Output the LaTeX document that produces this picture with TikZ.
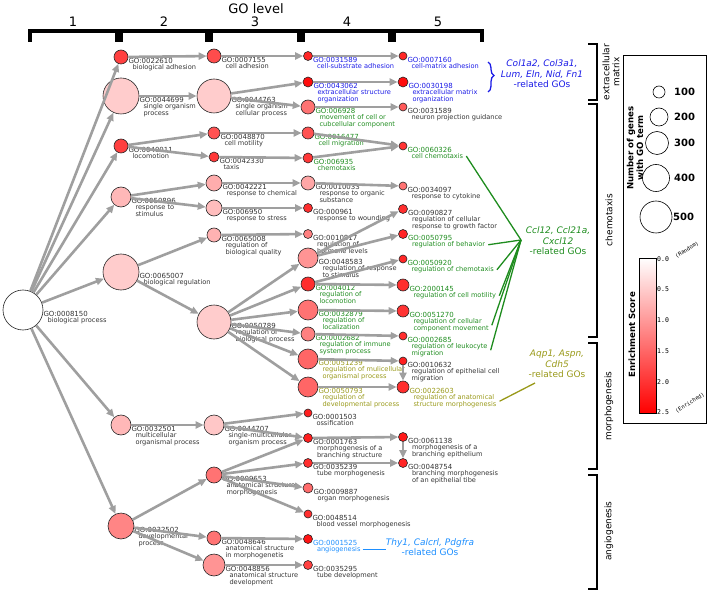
\documentclass[tikz,border=0pt]{standalone}
\usepackage{fontspec}
\setmainfont{DejaVu Sans}
\newfontfamily\monofont{DejaVu Sans Mono}
\usetikzlibrary{arrows.meta, decorations.pathreplacing}

\definecolor{labgray}{HTML}{333333}
\definecolor{ecmblue}{HTML}{1A1AE6}
\definecolor{chemgreen}{HTML}{1E8C1E}
\definecolor{morpholive}{HTML}{999919}
\definecolor{angioblue}{HTML}{1E8FFF}

% one GO term: name, x, y, radius, fill, text colour, id, description
\newcommand{\goterm}[8]{%
  \node[term, minimum size=#4*2pt, fill=#5] (#1) at (#2,#3) {};
  \node[goid, text=#6, anchor=west] (#1id) at ([yshift=-3.5pt]#1.east) {#7};
  \node[godesc, text=#6, anchor=north west] (#1ds) at ([xshift=4pt, yshift=-1pt]#1id.south west) {#8};
}

\begin{document}
\begin{tikzpicture}[x=1pt, y=-1pt,
    term/.style={circle, draw=black!85, line width=0.6pt, inner sep=0pt},
    goid/.style={inner sep=0pt, font=\fontsize{7}{7}\selectfont},
    godesc/.style={inner sep=0pt, align=left, font=\fontsize{6.6}{7}\selectfont},
    edge/.style={draw=gray!75, line width=2.6pt, -{Triangle[length=8pt, width=7pt]}},
    hbrack/.style={draw=black, line width=3.2pt},
    rbrack/.style={draw=black, line width=2.6pt},
    lvlnum/.style={font=\fontsize{13}{13}\selectfont, inner sep=0pt},
    genes/.style={align=center, inner sep=0pt, font=\fontsize{9}{10.5}\selectfont},
    grouplab/.style={rotate=90, align=center, inner sep=0pt, font=\fontsize{9}{10}\selectfont},
    genelink/.style={line width=1.3pt},
    legcirc/.style={circle, draw=black, line width=0.6pt, fill=white, inner sep=0pt},
    legnum/.style={font=\bfseries\fontsize{10}{10}\selectfont, inner sep=0pt},
    legtitle/.style={rotate=90, align=center, inner sep=0pt, font=\bfseries\fontsize{8.6}{9.6}\selectfont},
    scalenum/.style={font=\monofont\fontsize{6.5}{6.5}\selectfont, inner sep=0pt}]
    \useasboundingbox (0,0) rectangle (708,593);

    % GO level header
    \node[font=\fontsize{13}{13}\selectfont, inner sep=0pt] (golevel) at (256,9) {GO level};
    \node[lvlnum] (lvl1) at (73,22) {1};
    \node[lvlnum] (lvl2) at (164,22) {2};
    \node[lvlnum] (lvl3) at (255,22) {3};
    \node[lvlnum] (lvl4) at (347,22) {4};
    \node[lvlnum] (lvl5) at (438,22) {5};
    \draw[hbrack] (30,42) -- (30,31) -- (117,31) -- (117,42);
    \draw[hbrack] (121,42) -- (121,31) -- (207,31) -- (207,42);
    \draw[hbrack] (211,42) -- (211,31) -- (299,31) -- (299,42);
    \draw[hbrack] (303,42) -- (303,31) -- (390,31) -- (390,42);
    \draw[hbrack] (394,42) -- (394,31) -- (482,31) -- (482,42);

    % level 1 and 2
    \goterm{bp}{23}{310}{20}{white}{labgray}{GO:0008150}{biological process}
    \goterm{badh}{121}{57}{7}{red!75}{labgray}{GO:0022610}{biological adhesion}
    \goterm{sop}{121}{96}{18}{red!20}{labgray}{GO:0044699}{single organism\\process}
    \goterm{loco}{121}{146}{7}{red!75}{labgray}{GO:0040011}{locomotion}
    \goterm{rstim}{121}{197}{10}{red!28}{labgray}{GO:0050896}{response to\\stimulus}
    \goterm{breg}{121}{272}{18}{red!20}{labgray}{GO:0065007}{biological regulation}
    \goterm{mop}{121}{425}{10}{red!28}{labgray}{GO:0032501}{multicellular\\organismal process}
    \goterm{dev}{121}{526}{13}{red!48}{labgray}{GO:0032502}{developmental\\process}

    % level 3
    \goterm{cadh}{214}{56}{7}{red!70}{labgray}{GO:0007155}{cell adhesion}
    \goterm{socp}{214}{96}{17}{red!20}{labgray}{GO:0044763}{single organism\\cellular process}
    \goterm{cmot}{214}{133}{6}{red!68}{labgray}{GO:0048870}{cell motility}
    \goterm{taxis}{214}{157}{5}{red!78}{labgray}{GO:0042330}{taxis}
    \goterm{rchem}{214}{183}{8}{red!32}{labgray}{GO:0042221}{response to chemical}
    \goterm{rstress}{214}{208}{8}{red!26}{labgray}{GO:006950}{response to stress}
    \goterm{rbq}{214}{235}{7}{red!30}{labgray}{GO:0065008}{regulation of\\biological quality}
    \goterm{rbp}{214}{322}{17}{red!20}{labgray}{GO:0050789}{regulation of\\biological process}
    \goterm{smop}{214}{425}{10}{red!22}{labgray}{GO:0044707}{single-multicellular\\organism process}
    \goterm{asm}{214}{475}{8}{red!55}{labgray}{GO:0009653}{anatomical structure\\morphogenesis}
    \goterm{asmorph}{214}{538}{7}{red!55}{labgray}{GO:0048646}{anatomical structure\\in morphogenetis}
    \goterm{asdev}{214}{565}{11}{red!42}{labgray}{GO:0048856}{anatomical structure\\development}

    % level 4
    \goterm{csadh}{308}{56}{4.5}{red!85}{ecmblue}{GO:0031589}{cell-substrate adhesion}
    \goterm{ecso}{308}{82}{5}{red!95}{ecmblue}{GO:0043062}{extracellular structure\\organization}
    \goterm{mcc}{308}{107}{7}{red!55}{chemgreen}{GO:006928}{movement of cell or\\cubcellular component}
    \goterm{cmig}{308}{133}{6}{red!68}{chemgreen}{GO:0016477}{cell migration}
    \goterm{chemo}{308}{158}{5}{red!78}{chemgreen}{GO:006935}{chemotaxis}
    \goterm{ros}{308}{183}{7}{red!35}{labgray}{GO:0010033}{response to organic\\substance}
    \goterm{rwound}{308}{208}{4.5}{red!82}{labgray}{GO:000961}{response to wounding}
    \goterm{rhl}{308}{234}{4.5}{red!50}{labgray}{GO:0010817}{regulation of\\hormone levels}
    \goterm{rrs}{308}{258}{10}{red!42}{labgray}{GO:0048583}{regulation of response\\to stimulus}
    \goterm{rloco}{308}{284}{7}{red!82}{chemgreen}{GO:004012}{regulation of\\locomotion}
    \goterm{rloc}{308}{310}{10}{red!55}{chemgreen}{GO:0032879}{regulation of\\localization}
    \goterm{ris}{308}{334}{7}{red!50}{chemgreen}{GO:0002682}{regulation of immune\\system process}
    \goterm{rmop}{308}{359}{10}{red!60}{morpholive}{GO:0051239}{regulation of mulicellular\\organismal process}
    \goterm{rdp}{308}{387}{10}{red!60}{morpholive}{GO:0050793}{regulation of\\developmental process}
    \goterm{ossi}{308}{413}{4}{red!88}{labgray}{GO:0001503}{ossification}
    \goterm{mbs}{308}{438}{4.5}{red!88}{labgray}{GO:0001763}{morphogenesis of a\\branching structure}
    \goterm{tmorph}{308}{463}{4.5}{red!82}{labgray}{GO:0035239}{tube morphogenesis}
    \goterm{omorph}{308}{488}{5}{red!58}{labgray}{GO:0009887}{organ morphogenesis}
    \goterm{bvm}{308}{514}{4}{red!82}{labgray}{GO:0048514}{blood vessel morphogenesis}
    \goterm{angio}{308}{539}{4.5}{red!92}{angioblue}{GO:0001525}{angiogenesis}
    \goterm{tdev}{308}{565}{4.5}{red!75}{labgray}{GO:0035295}{tube development}

    % level 5
    \goterm{cmadh}{403}{56}{4}{red!85}{ecmblue}{GO:0007160}{cell-matrix adhesion}
    \goterm{ecmo}{403}{82}{5}{red!95}{ecmblue}{GO:0030198}{extracellular matrix\\organization}
    \goterm{npg}{403}{107}{4}{red!65}{labgray}{GO:0031589}{neuron projection guidance}
    \goterm{cchemo}{403}{146}{4}{red!80}{chemgreen}{GO:0060326}{cell chemotaxis}
    \goterm{rcyt}{403}{186}{4}{red!55}{labgray}{GO:0034097}{response to cytokine}
    \goterm{rcrgf}{403}{209}{4.5}{red!82}{labgray}{GO:0090827}{regulation of cellular\\response to growth factor}
    \goterm{rbeh}{403}{234}{4.5}{red!85}{chemgreen}{GO:0050795}{regulation of behavior}
    \goterm{rchemo}{403}{259}{4}{red!85}{chemgreen}{GO:0050920}{regulation of chemotaxis}
    \goterm{rcm}{403}{285}{6}{red!82}{chemgreen}{GO:2000145}{regulation of cell motility}
    \goterm{rccm}{403}{311}{6}{red!80}{chemgreen}{GO:0051270}{regulation of cellular\\component movement}
    \goterm{rlm}{403}{336}{4}{red!82}{chemgreen}{GO:0002685}{regulation of leukocyte\\migration}
    \goterm{recm}{403}{361}{4}{red!88}{labgray}{GO:0010632}{regulation of epithelial cell\\migration}
    \goterm{rasm}{403}{387}{6}{red!82}{morpholive}{GO:0022603}{regulation of anatomical\\structure morphogenesis}
    \goterm{mbe}{403}{437}{4.5}{red!90}{labgray}{GO:0061138}{morphogenesis of a\\branching epithelium}
    \goterm{bmee}{403}{463}{4.5}{red!85}{labgray}{GO:0048754}{branching morphogenesis\\of an epithelial tibe}

    % level 1 -> 2
    \draw[edge] (bp) -- (badh);
    \draw[edge] (bp) -- (sop);
    \draw[edge] (bp) -- (loco);
    \draw[edge] (bp) -- (rstim);
    \draw[edge] (bp) -- (breg);
    \draw[edge] (bp) -- (mop);
    \draw[edge] (bp) -- (dev);
    % level 2 -> 3
    \draw[edge] (badh) -- (cadh);
    \draw[edge] (sop) -- (socp);
    \draw[edge] (loco) -- (cmot);
    \draw[edge] (loco) -- (taxis);
    \draw[edge] (rstim) -- (rchem);
    \draw[edge] (rstim) -- (rstress);
    \draw[edge] (breg) -- (rbq);
    \draw[edge] (breg) -- (rbp);
    \draw[edge] (mop) -- (smop);
    \draw[edge] (dev) -- (asm);
    \draw[edge] (dev) -- (asmorph);
    \draw[edge] (dev) -- (asdev);
    % level 3 -> 4
    \draw[edge] (cadh) -- (csadh);
    \draw[edge] (socp) -- (ecso);
    \draw[edge] (socp) -- (mcc);
    \draw[edge] (cmot) -- (cmig);
    \draw[edge] (taxis) -- (chemo);
    \draw[edge] (rchem) -- (ros);
    \draw[edge] (rstress) -- (rwound);
    \draw[edge] (rbq) -- (rhl);
    \draw[edge] (rbp) -- (rrs);
    \draw[edge] (rbp) -- (rloco);
    \draw[edge] (rbp) -- (rloc);
    \draw[edge] (rbp) -- (ris);
    \draw[edge] (rbp) -- (rmop);
    \draw[edge] (rbp) -- (rdp);
    \draw[edge] (smop) -- (ossi);
    \draw[edge] (smop) -- (mbs);
    \draw[edge] (asm) -- (mbs);
    \draw[edge] (asm) -- (tmorph);
    \draw[edge] (asm) -- (omorph);
    \draw[edge] (asm) -- (bvm);
    \draw[edge] (asmorph) -- (angio);
    \draw[edge] (asdev) -- (tdev);
    % level 4 -> 5
    \draw[edge] (csadh) -- (cmadh);
    \draw[edge] (ecso) -- (ecmo);
    \draw[edge] (mcc) -- (npg);
    \draw[edge] (cmig) -- (cchemo);
    \draw[edge] (chemo) -- (cchemo);
    \draw[edge] (ros) -- (rcyt);
    \draw[edge] (rrs) -- (rcrgf);
    \draw[edge] (rrs) -- (rbeh);
    \draw[edge] (rloco) -- (rchemo);
    \draw[edge] (rloco) -- (rcm);
    \draw[edge] (rloc) -- (rccm);
    \draw[edge] (ris) -- (rlm);
    \draw[edge] (rmop) -- (recm);
    \draw[edge] (rdp) -- (rasm);
    \draw[edge] (recm) -- (rasm);
    \draw[edge] (mbs) -- (mbe);
    \draw[edge] (tmorph) -- (bmee);
    \draw[edge] (mbe) -- (bmee);

    % related genes
    \node[genes, text=ecmblue] (ecmgenes) at (542,74) {\textit{Col1a2, Col3a1,}\\\textit{Lum, Eln, Nid, Fn1}\\-related GOs};
    \draw[genelink, ecmblue, decorate, decoration={brace, amplitude=6pt, aspect=0.45}] (488,62) -- (488,92);
    \node[genes, text=chemgreen] (chemgenes) at (558,241) {\textit{Ccl12, Ccl21a,}\\\textit{Cxcl12}\\-related GOs};
    \coordinate (chempt) at (521,240);
    \draw[genelink, chemgreen] ([xshift=3pt]cchemods.east) -- (chempt);
    \draw[genelink, chemgreen] ([xshift=3pt]rbehds.east) -- (chempt);
    \draw[genelink, chemgreen] ([xshift=3pt]rchemods.east) -- (chempt);
    \draw[genelink, chemgreen] ([xshift=3pt]rcmds.east) -- (chempt);
    \draw[genelink, chemgreen] ([xshift=3pt]rccmds.east) -- (chempt);
    \draw[genelink, chemgreen] ([xshift=3pt]rlmds.east) -- (chempt);
    \node[genes, text=morpholive] (morphgenes) at (557,364) {\textit{Aqp1, Aspn,}\\\textit{Cdh5}\\-related GOs};
    \coordinate (morphpt) at (535,383);
    \draw[genelink, morpholive] ([xshift=3pt]rasmds.east) -- (morphpt);
    \node[genes, text=angioblue] (angiogenes) at (430,547) {\textit{Thy1, Calcrl, Pdgfra}\\-related GOs};
    \draw[genelink, angioblue] ([xshift=2pt]angiods.east) -- (angiogenes.west |- angiods.east);

    % groups on the right
    \draw[rbrack] (588,44) -- (597,44) -- (597,100) -- (588,100);
    \node[grouplab] (ecmlab) at (611,72) {extracellular\\matrix};
    \draw[rbrack] (588,104) -- (597,104) -- (597,337) -- (588,337);
    \node[grouplab] (chemlab) at (609,220) {chemotaxis};
    \draw[rbrack] (588,343) -- (597,343) -- (597,469) -- (588,469);
    \node[grouplab] (morphlab) at (609,406) {morphogenesis};
    \draw[rbrack] (588,475) -- (597,475) -- (597,589) -- (588,589);
    \node[grouplab] (angiolab) at (609,531) {angiogenesis};

    % legend
    \draw[line width=0.6pt] (623,55) rectangle (706,423);
    \node[legcirc, minimum size=12pt] (leg100) at (659,92) {};
    \node[legcirc, minimum size=18pt] (leg200) at (659,117) {};
    \node[legcirc, minimum size=23pt] (leg300) at (657,143) {};
    \node[legcirc, minimum size=27pt] (leg400) at (656,178) {};
    \node[legcirc, minimum size=32pt] (leg500) at (656,217) {};
    \node[legnum, anchor=west] (legt100) at (674,92) {100};
    \node[legnum, anchor=west] (legt200) at (674,117) {200};
    \node[legnum, anchor=west] (legt300) at (674,143) {300};
    \node[legnum, anchor=west] (legt400) at (674,178) {400};
    \node[legnum, anchor=west] (legt500) at (673,217) {500};
    \node[legtitle] (legsize) at (635,148) {Number of genes\\with GO term};
    \shade[top color=white, bottom color=red] (639,258) rectangle (656,413);
    \draw[line width=0.6pt] (639,258) rectangle (656,413);
    \node[legtitle] (legscore) at (632,335) {Enrichment Score};
    \node[scalenum, anchor=west] (sc0) at (657,259) {0.0};
    \node[scalenum, anchor=west] (sc1) at (657,289) {0.5};
    \node[scalenum, anchor=west] (sc2) at (657,320) {1.0};
    \node[scalenum, anchor=west] (sc3) at (657,351) {1.5};
    \node[scalenum, anchor=west] (sc4) at (657,382) {2.0};
    \node[scalenum, anchor=west] (sc5) at (657,412) {2.5};
    \node[scalenum, rotate=32, font=\monofont\fontsize{5.5}{5.5}\selectfont] (scrand) at (687,250) {(Random)};
    \node[scalenum, rotate=32, font=\monofont\fontsize{5.5}{5.5}\selectfont] (scenr) at (690,403) {(Enriched)};
\end{tikzpicture}
\end{document}
